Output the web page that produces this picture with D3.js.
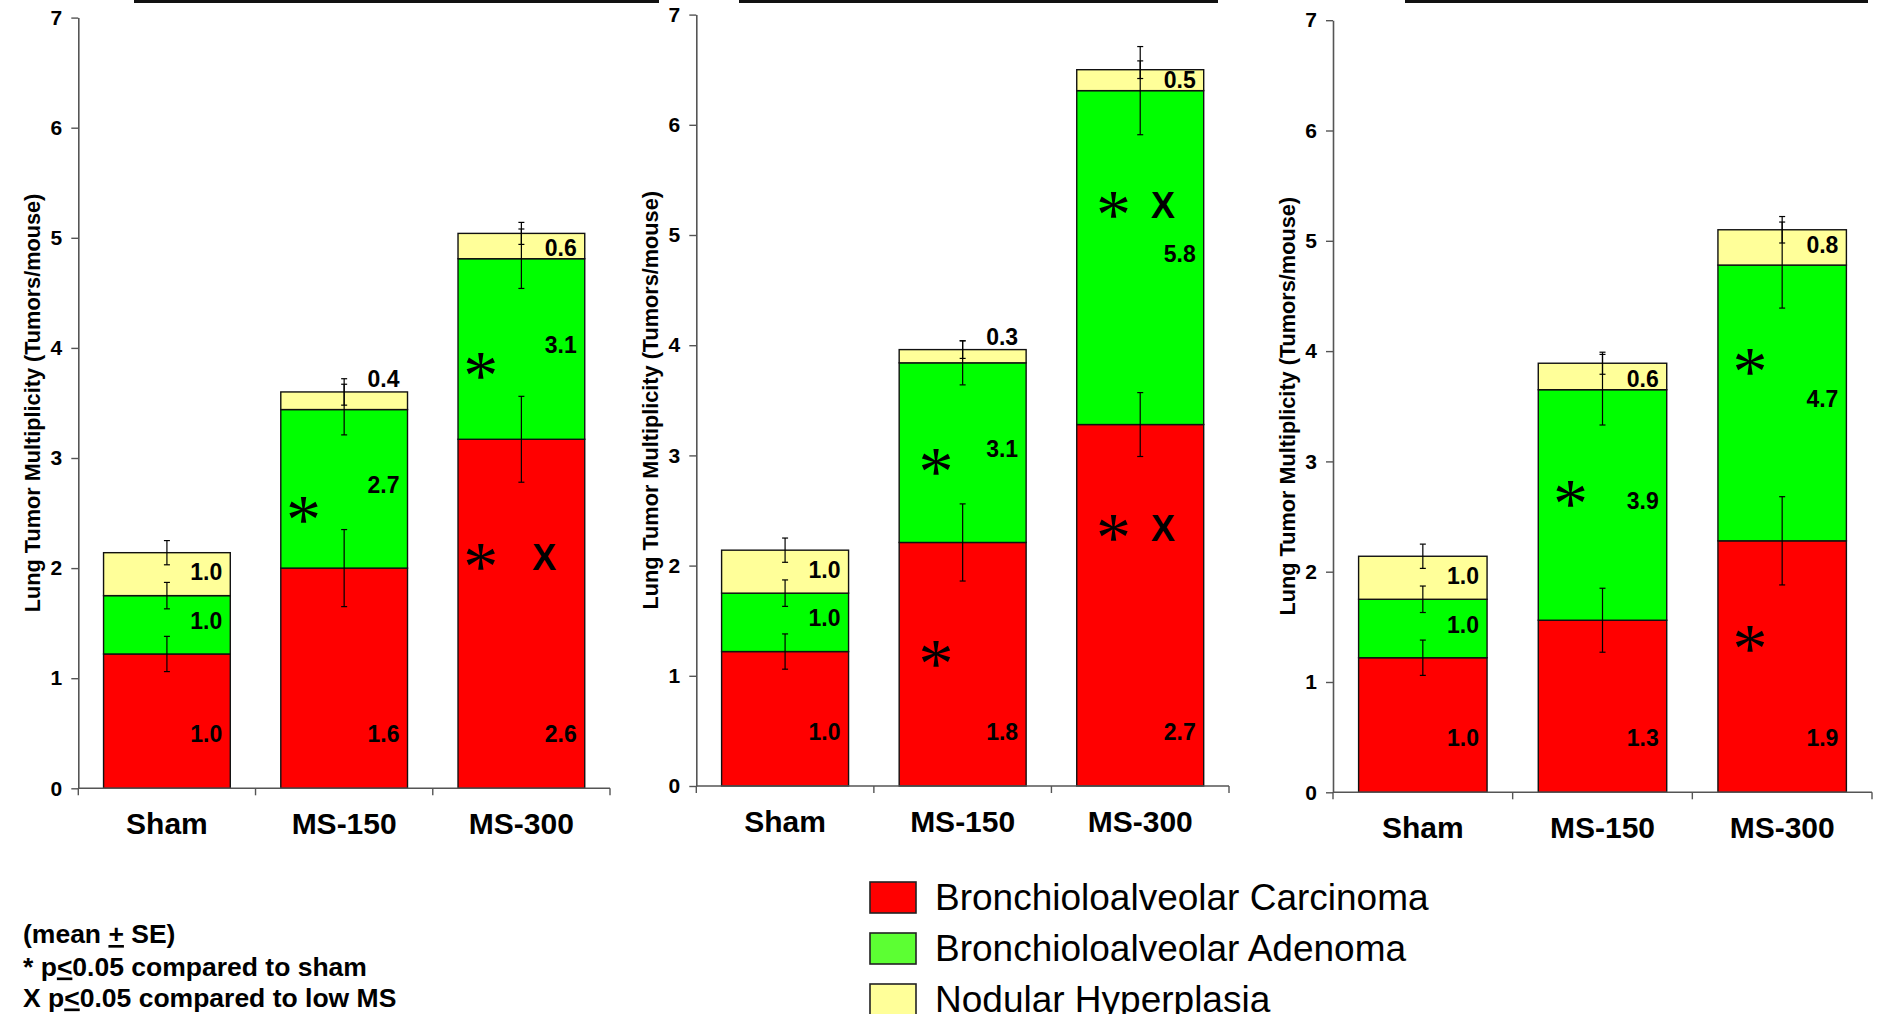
<!DOCTYPE html>
<html><head><meta charset="utf-8">
<script src="https://cdn.jsdelivr.net/npm/d3@7"></script>
<style>
html,body{margin:0;padding:0;background:#fff;}
svg{display:block;}
</style></head>
<body>
<script>
// ---------- data ----------
const categories = ["Sham", "MS-150", "MS-300"];
const seriesNames = ["Bronchioloalveolar Carcinoma", "Bronchioloalveolar Adenoma", "Nodular Hyperplasia"];
const yTicks = [0, 1, 2, 3, 4, 5, 6, 7];
const yAxisTitle = "Lung Tumor Multiplicity (Tumors/mouse)";

// Panel 1
const p1Carcinoma   = [1.22, 2.00, 3.17];
const p1Adenoma     = [0.53, 1.44, 1.64];
const p1Hyperplasia = [0.39, 0.16, 0.23];
const p1CarcinomaSE   = [0.16, 0.35, 0.39];
const p1AdenomaSE     = [0.12, 0.23, 0.27];
const p1HyperplasiaSE = [0.11, 0.12, 0.10];
const p1CarcinomaLbl   = ["1.0", "1.6", "2.6"];
const p1AdenomaLbl     = ["1.0", "2.7", "3.1"];
const p1HyperplasiaLbl = ["1.0", "0.4", "0.6"];
const p1Marks = [[1, "*", 2.53], [2, "*", 3.84], [2, "*", 2.10], [2, "X", 2.10]];

// Panel 2
const p2Carcinoma   = [1.22, 2.21, 3.28];
const p2Adenoma     = [0.53, 1.63, 3.03];
const p2Hyperplasia = [0.39, 0.12, 0.19];
const p2CarcinomaSE   = [0.16, 0.35, 0.29];
const p2AdenomaSE     = [0.12, 0.20, 0.40];
const p2HyperplasiaSE = [0.11, 0.08, 0.08];
const p2CarcinomaLbl   = ["1.0", "1.8", "2.7"];
const p2AdenomaLbl     = ["1.0", "3.1", "5.8"];
const p2HyperplasiaLbl = ["1.0", "0.3", "0.5"];
const p2Marks = [[1, "*", 2.94], [1, "*", 1.20], [2, "*", 5.27], [2, "X", 5.27], [2, "*", 2.34], [2, "X", 2.34]];

// Panel 3
const p3Carcinoma   = [1.22, 1.56, 2.28];
const p3Adenoma     = [0.53, 2.09, 2.50];
const p3Hyperplasia = [0.39, 0.24, 0.32];
const p3CarcinomaSE   = [0.16, 0.29, 0.40];
const p3AdenomaSE     = [0.12, 0.32, 0.39];
const p3HyperplasiaSE = [0.11, 0.10, 0.12];
const p3CarcinomaLbl   = ["1.0", "1.3", "1.9"];
const p3AdenomaLbl     = ["1.0", "3.9", "4.7"];
const p3HyperplasiaLbl = ["1.0", "0.6", "0.8"];
const p3Marks = [[1, "*", 2.70], [2, "*", 3.90], [2, "*", 1.39]];

const notes = ["(mean ", "+", " SE)"];
const note2 = ["* p", "<", "0.05 compared to sham"];
const note3 = ["X p", "<", "0.05 compared to low MS"];

// ---------- layout / style ----------
const W = 1877, H = 1014;
const SANS = "'Liberation Sans', Arial, Helvetica, sans-serif";
const SERIF = "'Liberation Serif', 'Times New Roman', serif";
const colors = ["#ff0000", "#00ff00", "#ffff99"];
const legendColors = ["#ff0000", "#5cff33", "#ffff99"];
const panelLayout = [
  {x0: 78.3, x1: 610, y0: 788.3, y7: 17.6, bar: [134, 659], star: 0.18},
  {x0: 696.3, x1: 1229, y0: 786, y7: 14.6, bar: [739, 1218], star: 0.29},
  {x0: 1333, x1: 1872, y0: 792.3, y7: 20.2, bar: [1405, 1868], star: 0.25}
];
const panels = [
  {vals: [p1Carcinoma, p1Adenoma, p1Hyperplasia], se: [p1CarcinomaSE, p1AdenomaSE, p1HyperplasiaSE],
   lbl: [p1CarcinomaLbl, p1AdenomaLbl, p1HyperplasiaLbl], marks: p1Marks},
  {vals: [p2Carcinoma, p2Adenoma, p2Hyperplasia], se: [p2CarcinomaSE, p2AdenomaSE, p2HyperplasiaSE],
   lbl: [p2CarcinomaLbl, p2AdenomaLbl, p2HyperplasiaLbl], marks: p2Marks},
  {vals: [p3Carcinoma, p3Adenoma, p3Hyperplasia], se: [p3CarcinomaSE, p3AdenomaSE, p3HyperplasiaSE],
   lbl: [p3CarcinomaLbl, p3AdenomaLbl, p3HyperplasiaLbl], marks: p3Marks}
];

const svg = d3.select("body").append("svg").attr("width", W).attr("height", H)
  .style("font-family", SANS);

panels.forEach((p, pi) => {
  const L = panelLayout[pi];
  const g = svg.append("g");
  const x = d3.scaleBand().domain(categories).range([L.x0, L.x1]).paddingInner(0.285).paddingOuter(0.1425);
  const y = d3.scaleLinear().domain([0, 7]).range([L.y0, L.y7]);

  // top decorative rule (cut-off title frame)
  g.append("rect").attr("x", L.bar[0]).attr("y", 0).attr("width", L.bar[1] - L.bar[0]).attr("height", 3).attr("fill", "#111");

  // stacked data
  const rows = categories.map((c, ci) => {
    let cum = 0;
    return p.vals.map((s, si) => {
      const lo = cum; cum += s[ci];
      return {c, ci, si, lo, hi: cum, se: p.se[si][ci], lbl: p.lbl[si][ci]};
    });
  }).flat();

  // bars
  g.selectAll("rect.seg").data(rows).join("rect").attr("class", "seg")
    .attr("x", d => x(d.c)).attr("width", x.bandwidth())
    .attr("y", d => y(d.hi)).attr("height", d => y(d.lo) - y(d.hi))
    .attr("fill", d => colors[d.si]).attr("stroke", "#111").attr("stroke-width", 1.4);

  // axes
  const yAxis = d3.axisLeft(y).tickValues(yTicks).tickSize(7).tickSizeOuter(0).tickPadding(9).tickFormat(d3.format("d"));
  const ya = g.append("g").attr("transform", `translate(${L.x0},0)`).call(yAxis);
  ya.attr("font-family", null).attr("font-size", null);
  ya.select(".domain").attr("stroke", "#555").attr("stroke-width", 1.6);
  ya.selectAll(".tick line").attr("stroke", "#555").attr("stroke-width", 1.4);
  ya.selectAll(".tick text").style("font-size", "21px").style("font-weight", "bold").attr("fill", "#000")
    .style("font-family", SANS);

  const xAxis = d3.axisBottom(x).tickSize(0).tickPadding(0);
  const xa = g.append("g").attr("transform", `translate(0,${L.y0})`).call(xAxis);
  xa.select(".domain").remove();
  xa.selectAll(".tick text").style("font-size", "30px").style("font-weight", "bold").attr("fill", "#000")
    .attr("dy", null).attr("y", 46).style("font-family", SANS);
  g.append("line").attr("x1", L.x0).attr("x2", L.x1).attr("y1", L.y0).attr("y2", L.y0)
    .attr("stroke", "#555").attr("stroke-width", 1.6);
  const bounds = d3.range(categories.length + 1).map(i => L.x0 + i * x.step());
  g.selectAll("line.xt").data(bounds).join("line").attr("class", "xt")
    .attr("x1", d => d).attr("x2", d => d).attr("y1", L.y0).attr("y2", L.y0 + 7)
    .attr("stroke", "#555").attr("stroke-width", 1.4);

  // y title
  g.append("text").attr("transform", `translate(${L.x0 - 46},${(L.y0 + L.y7) / 2}) rotate(-90)`)
    .attr("text-anchor", "middle").attr("dy", "0.35em").style("font-size", "21.7px").style("font-weight", "bold")
    .text(yAxisTitle);

  // error bars
  const eb = g.selectAll("g.eb").data(rows).join("g").attr("class", "eb");
  const cx = d => x(d.c) + x.bandwidth() / 2;
  eb.append("line").attr("x1", cx).attr("x2", cx).attr("y1", d => y(d.hi + d.se)).attr("y2", d => y(d.hi - d.se))
    .attr("stroke", "#000").attr("stroke-width", 1.2);
  [1, -1].forEach(sg => {
    eb.append("line").attr("x1", d => cx(d) - 3).attr("x2", d => cx(d) + 3)
      .attr("y1", d => y(d.hi + sg * d.se)).attr("y2", d => y(d.hi + sg * d.se))
      .attr("stroke", "#000").attr("stroke-width", 1.2);
  });

  // value labels
  g.selectAll("text.val").data(rows).join("text").attr("class", "val")
    .attr("x", d => x(d.c) + x.bandwidth() - 8)
    .attr("y", d => {
      const top = y(d.hi), bot = y(d.lo), h = bot - top, mid = (top + bot) / 2;
      if (d.si === 0) return L.y0 - 46;
      if (d.si === 1) return mid + 4;
      if (h < 20) return top - 5;
      if (h < 30) return bot - 3;
      return mid + 6;
    })
    .attr("text-anchor", "end").style("font-size", "23px").style("font-weight", "bold").attr("fill", "#000")
    .text(d => d.lbl);

  // significance marks
  g.selectAll("text.mk").data(p.marks).join("text").attr("class", "mk")
    .attr("x", d => x(categories[d[0]]) + x.bandwidth() * (d[1] === "*" ? L.star : 0.68))
    .attr("y", d => y(d[2]) + (d[1] === "*" ? 33 : 13))
    .attr("text-anchor", "middle")
    .style("font-family", d => d[1] === "*" ? SERIF : SANS)
    .style("font-size", d => d[1] === "*" ? "70px" : "36px")
    .style("font-weight", d => d[1] === "*" ? "normal" : "bold")
    .attr("fill", "#000")
    .text(d => d[1]);
});

// notes (bottom left)
[[notes, 943], [note2, 975.5], [note3, 1006.5]].forEach(([parts, by]) => {
  const t = svg.append("text").attr("x", 23).attr("y", by).style("font-size", "26.5px").style("font-weight", "bold");
  parts.forEach((s, i) => {
    const ts = t.append("tspan").text(s);
    if (i === 1) ts.style("text-decoration", "underline");
  });
});

// legend
const lg = svg.append("g");
const ly = d3.scalePoint().domain(seriesNames).range([882, 984]);
lg.selectAll("rect").data(seriesNames).join("rect")
  .attr("x", 870).attr("y", d => ly(d)).attr("width", 46).attr("height", 31)
  .attr("fill", (d, i) => legendColors[i]).attr("stroke", "#222").attr("stroke-width", 1.6);
lg.selectAll("text").data(seriesNames).join("text")
  .attr("x", 935).attr("y", d => ly(d) + 28).style("font-size", "37px").attr("fill", "#000")
  .text(d => d);
</script>
</body></html>
